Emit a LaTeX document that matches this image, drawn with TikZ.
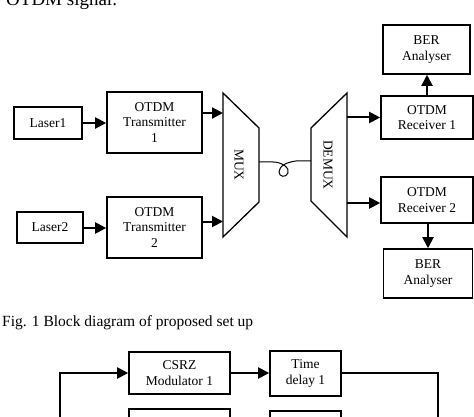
\documentclass[tikz,border=0pt]{standalone}
\usepackage{fontspec}
\setmainfont{Liberation Serif}
\usetikzlibrary{arrows.meta,calc}
\begin{document}
\begin{tikzpicture}[x=1pt,y=-1pt,
  blk/.style={draw, line width=1.6pt, inner sep=0pt, align=center,
    font=\fontsize{13.5}{15.5}\selectfont},
  arr/.style={line width=2pt, -{Triangle[length=11pt,width=11pt]}},
  plain/.style={line width=2pt},
  trap/.style={draw, line width=1.3pt, line join=miter},
  fiber/.style={line width=1pt},
  lbl/.style={inner sep=0pt, font=\fontsize{13.5}{15.5}\selectfont, rotate=-90}
]
\useasboundingbox (0,0) rectangle (474,417);

% top text (clipped)
\node[anchor=base west, inner sep=0pt, font=\fontsize{19}{22}\selectfont] (toptext) at (6,5.5) {OTDM signal.};

% transmit side
\node[blk, minimum width=68pt, minimum height=32pt] (laserA) at (48,123) {Laser1};
\node[blk, minimum width=95pt, minimum height=61pt] (txA) at (154.5,122.5) {OTDM\\Transmitter\\1};
\node[blk, minimum width=66pt, minimum height=31pt] (laserB) at (50,227.5) {Laser2};
\node[blk, minimum width=95pt, minimum height=61pt] (txB) at (154.5,227.5) {OTDM\\Transmitter\\2};

% MUX / DEMUX
\draw[trap] (223,93) -- (259,128) -- (259,202) -- (223,237) -- cycle;
\draw[trap] (347,93) -- (311,128) -- (311,201) -- (347,237) -- cycle;
\node[lbl] (mux) at (239,165) {MUX};
\node[lbl] (demux) at (328,165) {DEMUX};
\coordinate (muxinA) at (223,113);
\coordinate (muxinB) at (223,221.5);
\coordinate (muxout) at (259,162);
\coordinate (dmxin) at (311,161);
\coordinate (dmxoutA) at (347,117.5);
\coordinate (dmxoutB) at (347,203);

% receive side
\node[blk, minimum width=87pt, minimum height=49pt] (berA) at (426.5,49.5) {BER\\Analyser};
\node[blk, minimum width=92pt, minimum height=43pt] (rxA) at (427,117.5) {OTDM\\Receiver 1};
\node[blk, minimum width=92pt, minimum height=46pt] (rxB) at (427,200) {OTDM\\Receiver 2};
\node[blk, minimum width=89pt, minimum height=49pt] (berB) at (428,273.5) {BER\\Analyser};

% caption
\node[anchor=base west, inner sep=0pt, font=\fontsize{15.5}{18}\selectfont] (caption) at (2,326) {Fig. 1 Block diagram of proposed set up};

% second figure (partly shown)
\node[blk, minimum width=101pt, minimum height=42pt] (csrzA) at (179.5,373) {CSRZ\\Modulator 1};
\node[blk, minimum width=71pt, minimum height=45pt] (timeA) at (305.5,373.5) {Time\\delay 1};
\node[blk, minimum width=101pt, minimum height=42pt] (csrzB) at (179.5,430) {};
\node[blk, minimum width=71pt, minimum height=45pt] (timeB) at (305.5,433.5) {};
\coordinate (lbot) at (60,425);
\coordinate (rbot) at (438,425);

% connectors
\draw[arr] (laserA.east) -- (txA.west |- laserA.east);
\draw[arr] (txA.east |- muxinA) -- (muxinA);
\draw[arr] (laserB.east |- 0,228) -- (txB.west |- 0,228);
\draw[arr] (txB.east |- muxinB) -- (muxinB);
\draw[fiber] (muxout) -- (273,162)
  .. controls (282,162) and (290,168) .. (288,173)
  .. controls (286,178) and (279,177) .. (279,172)
  .. controls (279,166) and (287,162) .. (296,161)
  -- (dmxin);
\draw[arr] (dmxoutA) -- (rxA.west |- dmxoutA);
\draw[arr] (dmxoutB) -- (rxB.west |- dmxoutB);
\draw[arr] (rxA.north) -- (berA.south -| rxA.north);
\draw[arr] (rxB.south -| berB.north) -- (berB.north);
\draw[arr] (lbot) |- (csrzA.west);
\draw[arr] (csrzA.east) -- (timeA.west |- csrzA.east);
\draw[plain] (timeA.east |- csrzA.east) -| (rbot);
\end{tikzpicture}
\end{document}
